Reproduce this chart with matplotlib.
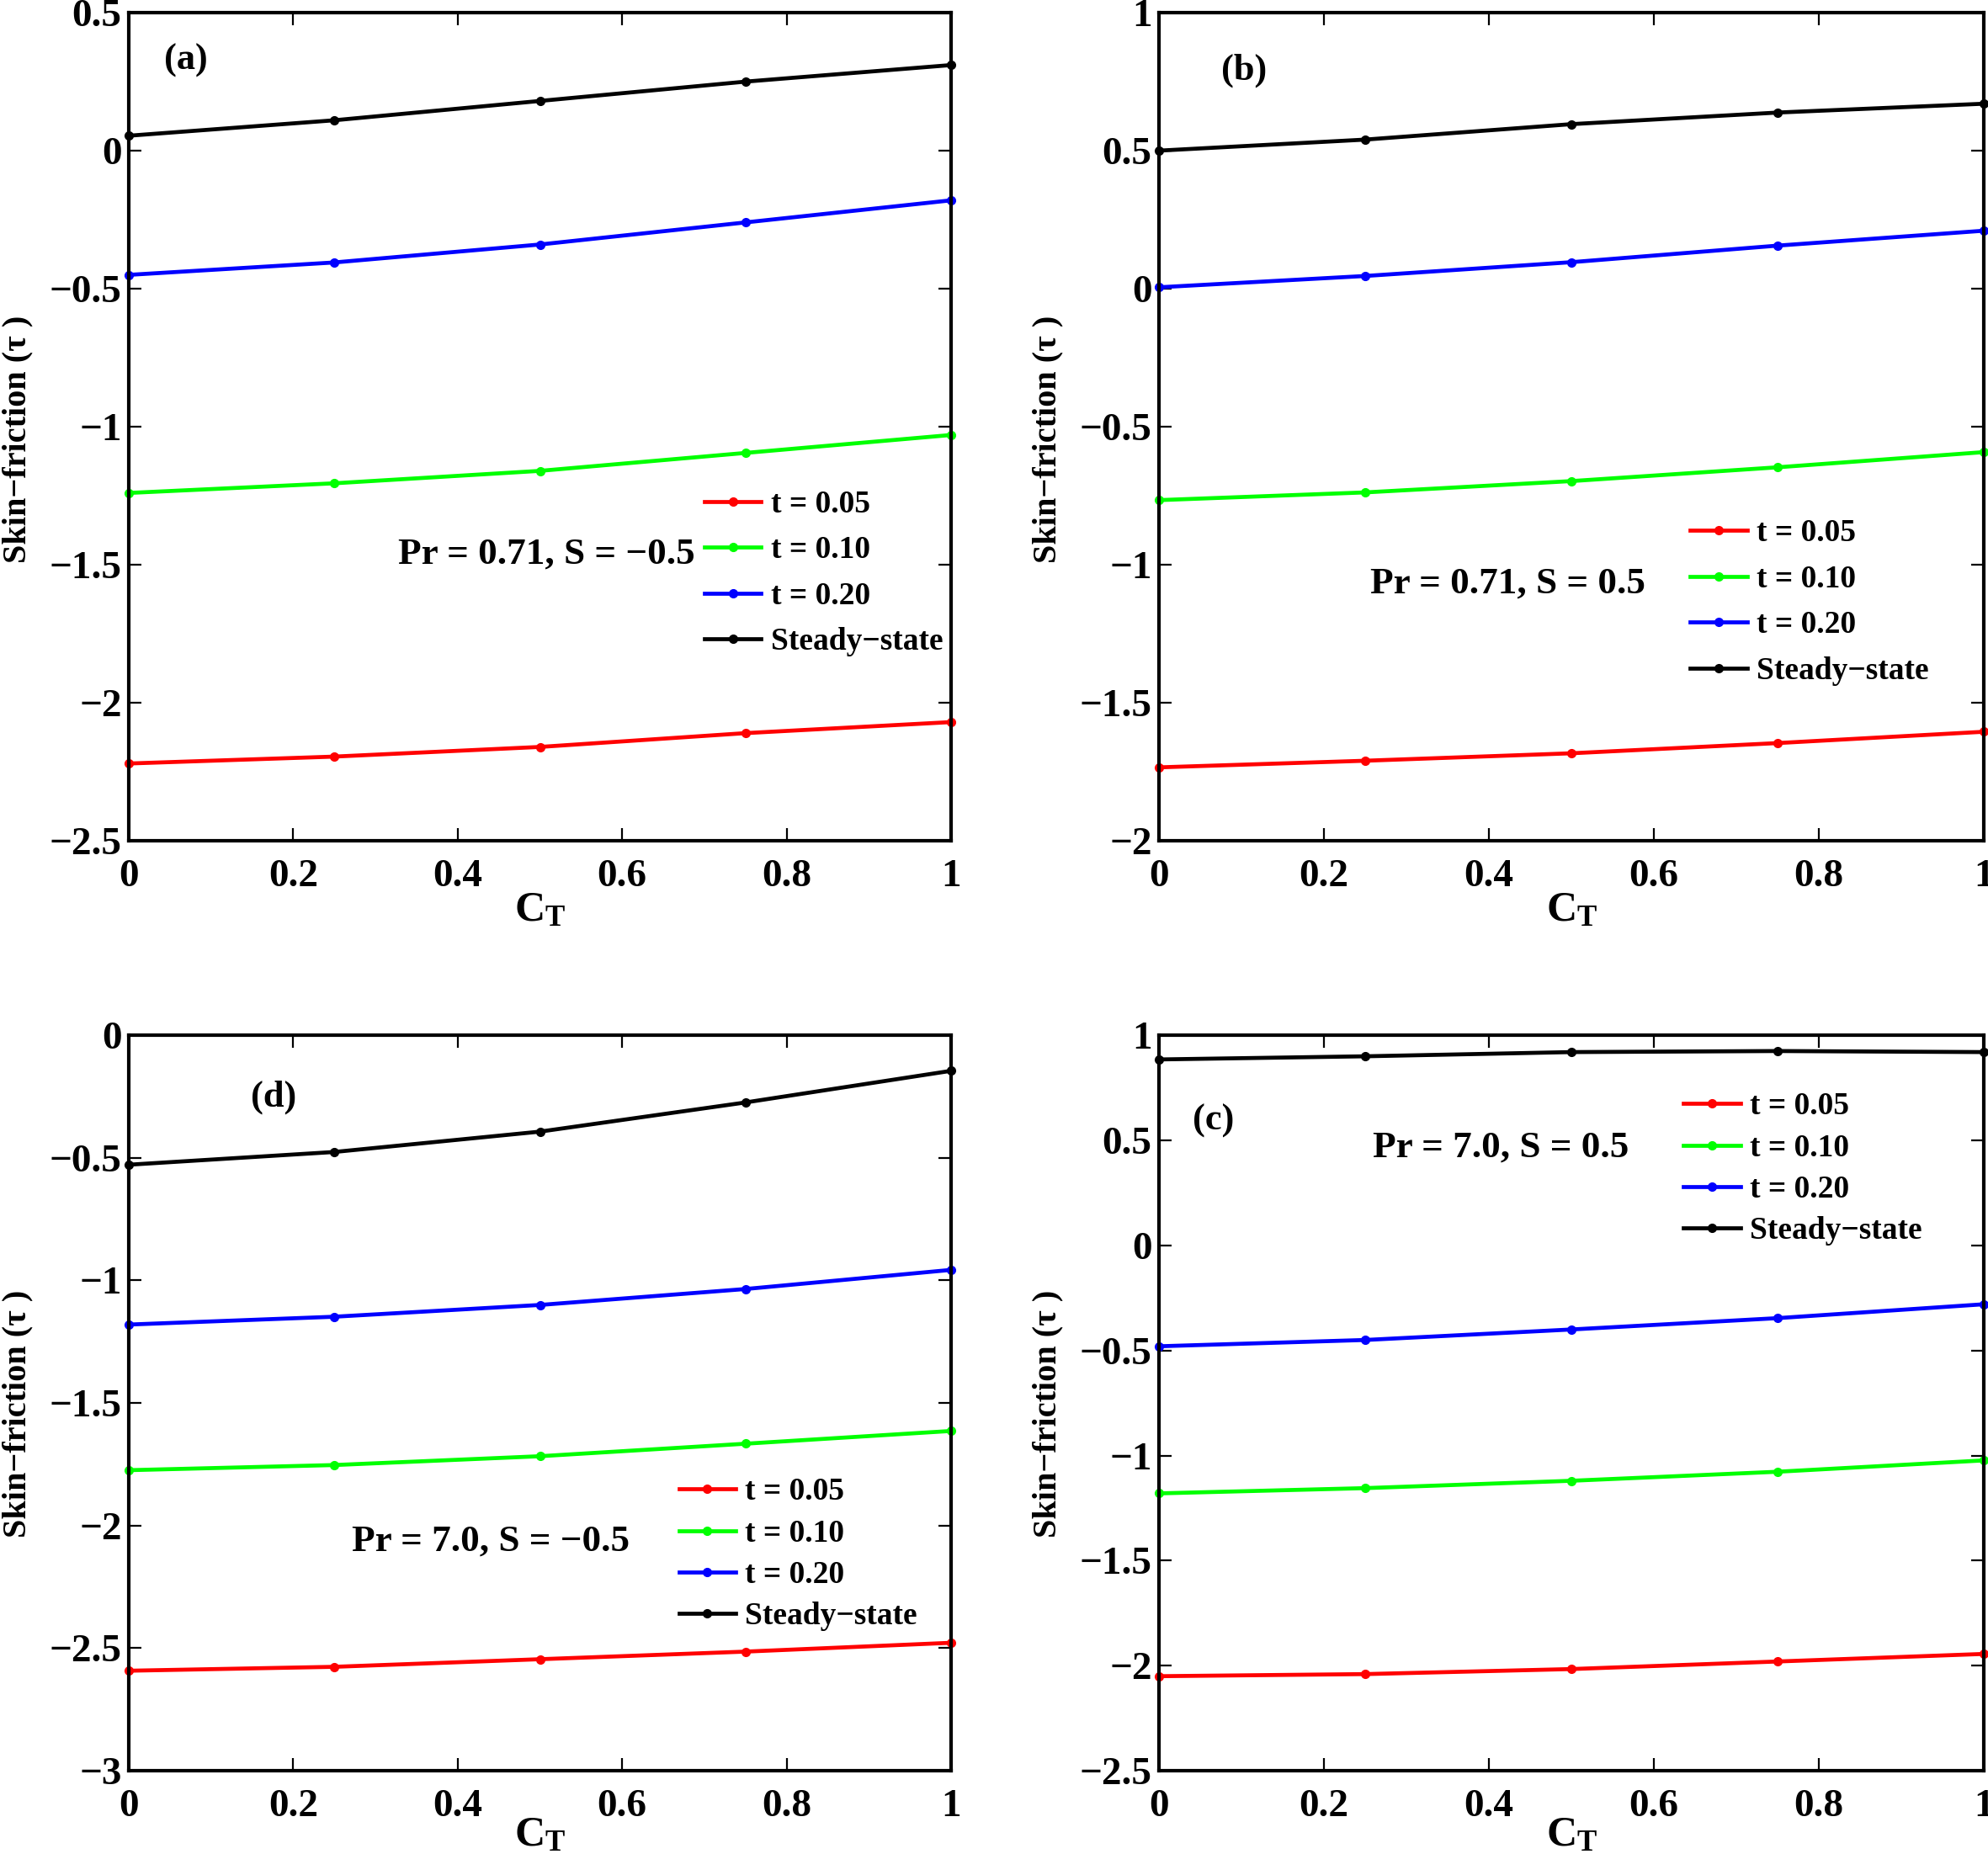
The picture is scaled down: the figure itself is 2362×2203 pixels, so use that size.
import matplotlib
matplotlib.use('Agg')
import matplotlib.pyplot as plt
from matplotlib.ticker import FuncFormatter

plt.rcParams['font.family'] = ['Liberation Serif', 'DejaVu Serif']
plt.rcParams['font.weight'] = 'bold'
plt.rcParams['mathtext.fontset'] = 'custom'
plt.rcParams['mathtext.rm'] = 'Liberation Serif:bold'
plt.rcParams['mathtext.bf'] = 'Liberation Serif:bold'
plt.rcParams['mathtext.it'] = 'Liberation Serif:bold:italic'

ct = [0, 0.25, 0.5, 0.75, 1.0]
labels = ['t = 0.05', 't = 0.10', 't = 0.20', 'Steady\u2212state']
colors = ['#ff0000', '#00ff00', '#0000ff', '#000000']

# panel (a): Pr = 0.71, S = -0.5
a_t005 = [-2.22, -2.195, -2.16, -2.11, -2.07]
a_t010 = [-1.24, -1.205, -1.16, -1.095, -1.03]
a_t020 = [-0.45, -0.405, -0.34, -0.26, -0.18]
a_steady = [0.054, 0.11, 0.18, 0.25, 0.31]

# panel (b): Pr = 0.71, S = 0.5
b_t005 = [-1.734, -1.71, -1.683, -1.646, -1.605]
b_t010 = [-0.766, -0.738, -0.697, -0.647, -0.592]
b_t020 = [0.005, 0.046, 0.096, 0.156, 0.21]
b_steady = [0.50, 0.54, 0.596, 0.638, 0.67]

# panel (d): Pr = 7.0, S = -0.5
d_t005 = [-2.592, -2.576, -2.545, -2.514, -2.478]
d_t010 = [-1.774, -1.753, -1.717, -1.666, -1.614]
d_t020 = [-1.18, -1.148, -1.10, -1.035, -0.957]
d_steady = [-0.528, -0.476, -0.393, -0.274, -0.145]

# panel (c): Pr = 7.0, S = 0.5
c_t005 = [-2.05, -2.04, -2.016, -1.98, -1.944]
c_t010 = [-1.18, -1.155, -1.12, -1.077, -1.023]
c_t020 = [-0.48, -0.45, -0.40, -0.346, -0.28]
c_steady = [0.885, 0.90, 0.92, 0.925, 0.92]


def fmt(v, pos):
    s = '%g' % v
    return s.replace('-', '\u2212')


def panel(ax, series, ylim, tag, tag_xy, note, note_xy, leg_xy, leg_space, xl_y):
    for ys, c, lab in zip(series, colors, labels):
        ax.plot(ct, ys, color=c, lw=3.4, marker='o', ms=7, label=lab, clip_on=False)
    ax.set_xlim(0, 1)
    ax.set_ylim(*ylim)
    ax.set_xticks([0, 0.2, 0.4, 0.6, 0.8, 1])
    ax.xaxis.set_major_formatter(FuncFormatter(fmt))
    ax.yaxis.set_major_formatter(FuncFormatter(fmt))
    ax.tick_params(direction='in', length=11, width=1.6, top=True, right=True,
                   labelsize=34)
    ax.tick_params(axis='x', pad=16)
    ax.tick_params(axis='y', pad=6)
    for lab in ax.get_xticklabels() + ax.get_yticklabels():
        lab.set_fontweight('bold')
    for sp in ax.spines.values():
        sp.set_linewidth(3)
    ax.set_ylabel('Skin\u2212friction (\u03c4 )', fontsize=29, fontweight='bold')
    ax.yaxis.label.set_va('center')
    ax.yaxis.set_label_coords(-0.135, 0.485)
    ax.set_xlabel(r'$\mathbf{C_T}$', fontsize=36)
    ax.xaxis.set_label_coords(0.5, xl_y)
    ax.text(tag_xy[0], tag_xy[1], tag, transform=ax.transAxes, fontsize=32,
            fontweight='bold', va='center', ha='left')
    ax.text(note_xy[0], note_xy[1], note, transform=ax.transAxes, fontsize=32.5,
            fontweight='bold', va='center', ha='left')
    ax.legend(loc='upper left', bbox_to_anchor=leg_xy, frameon=False,
              handlelength=1.8, handletextpad=0.3,
              labelspacing=leg_space, borderpad=0, borderaxespad=0,
              prop={'weight': 'bold', 'size': 27})


fig = plt.figure(figsize=(23.62, 22.03), dpi=100)
ax_a = fig.add_axes([0.0648, 0.5465, 0.4136, 0.4467])
ax_b = fig.add_axes([0.583, 0.5465, 0.415, 0.4467])
ax_d = fig.add_axes([0.0648, 0.0449, 0.4136, 0.3967])
ax_c = fig.add_axes([0.583, 0.0449, 0.415, 0.3967])

panel(ax_a, [a_t005, a_t010, a_t020, a_steady], (-2.5, 0.5), '(a)', (0.043, 0.942),
      'Pr = 0.71, S = \u22120.5', (0.328, 0.346), (0.70, 0.424), 0.52, -0.06)
panel(ax_b, [b_t005, b_t010, b_t020, b_steady], (-2, 1), '(b)', (0.075, 0.930),
      'Pr = 0.71, S = 0.5', (0.256, 0.310), (0.644, 0.389), 0.52, -0.06)
panel(ax_d, [d_t005, d_t010, d_t020, d_steady], (-3, 0), '(d)', (0.148, 0.916),
      'Pr = 7.0, S = \u22120.5', (0.271, 0.312), (0.669, 0.399), 0.38, -0.061)
panel(ax_c, [c_t005, c_t010, c_t020, c_steady], (-2.5, 1), '(c)', (0.041, 0.884),
      'Pr = 7.0, S = 0.5', (0.259, 0.847), (0.636, 0.923), 0.38, -0.061)

fig.savefig('out.png', dpi=100)
